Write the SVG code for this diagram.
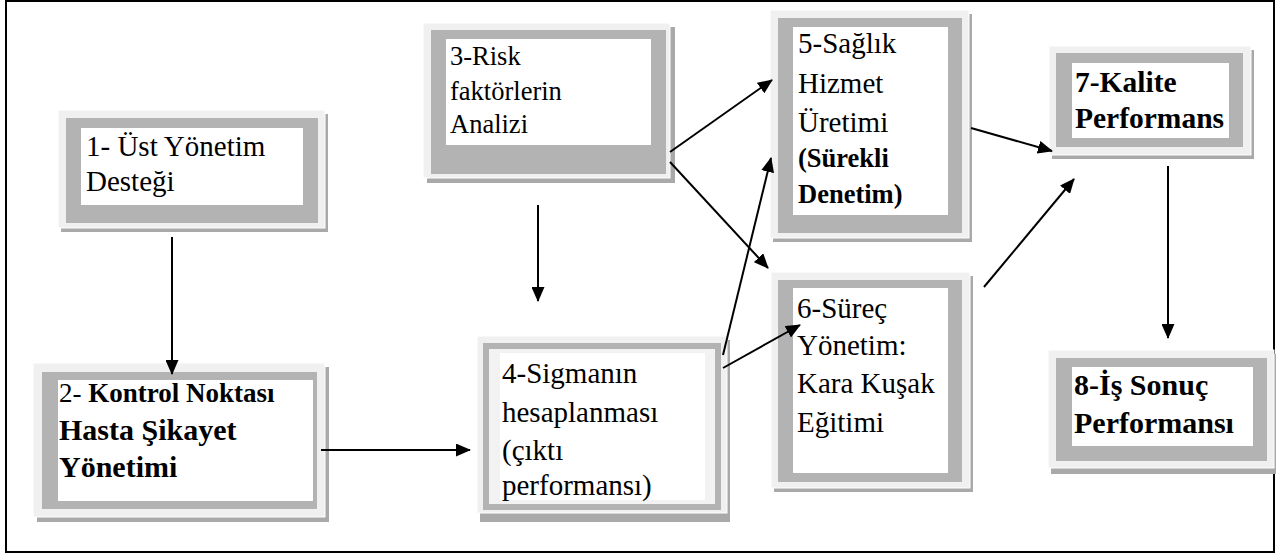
<svg xmlns="http://www.w3.org/2000/svg" width="1287" height="555" viewBox="0 0 1287 555">
  <style>
    .sh { fill: #a9a9a9; }
    .fr { fill: #f0f0f0; stroke: #ffffff; stroke-width: 1; }
    .bd { fill: #b3b3b3; }
    .in { fill: #f2f2f2; }
    .tx { fill: #ffffff; }
    text { font-family: "Liberation Serif", "Times New Roman", serif; font-size: 29px; fill: #000; }
    .b { font-weight: bold; }
    .conn line { stroke: #000; stroke-width: 2; marker-end: url(#ah); }
  </style>
  <defs>
    <marker id="ah" markerWidth="15" markerHeight="13" refX="14" refY="6.5" orient="auto" markerUnits="userSpaceOnUse">
      <path d="M0,0 L15,6.5 L0,13 Z" fill="#000"/>
    </marker>
  </defs>

  <rect width="1287" height="555" fill="#ffffff"/>
  <!-- outer frame -->
  <rect x="6" y="1" width="1268" height="551" fill="none" stroke="#000" stroke-width="2"/>

  <!-- 1: top management support -->
  <g id="node1">
    <rect class="sh" x="61" y="114" width="267" height="118"/>
    <rect class="fr" x="58" y="110" width="267" height="118"/>
    <rect class="bd" x="66" y="118" width="252" height="105"/>
    <rect class="tx" x="81" y="128" width="222" height="77"/>
    <text x="86" y="156">1- Üst Yönetim</text>
    <text x="86" y="191">Desteği</text>
  </g>

  <!-- 2: control point -->
  <g id="node2">
    <rect class="sh" x="37" y="367" width="292" height="155"/>
    <rect class="fr" x="33" y="363" width="292" height="154"/>
    <rect class="bd" x="42" y="372" width="275" height="137"/>
    <rect class="tx" x="58" y="380" width="255" height="121"/>
    <text x="59" y="402" style="font-size:27px">2- <tspan class="b">Kontrol Noktası</tspan></text>
    <text x="59" y="440" class="b" style="font-size:30px">Hasta Şikayet</text>
    <text x="59" y="477" class="b" style="font-size:30px">Yönetimi</text>
  </g>

  <!-- 3: risk factor analysis -->
  <g id="node3" style="font-size:26.5px">
    <rect class="sh" x="427" y="27" width="248" height="156"/>
    <rect class="fr" x="423" y="23" width="247" height="155"/>
    <rect class="bd" x="431" y="30" width="235" height="144"/>
    <rect class="tx" x="446" y="39" width="205" height="106"/>
    <text x="450" y="65" style="font-size:26.5px">3-Risk</text>
    <text x="450" y="100" style="font-size:26.5px">faktörlerin</text>
    <text x="450" y="133" style="font-size:26.5px">Analizi</text>
  </g>

  <!-- 4: sigma calculation -->
  <g id="node4">
    <rect class="sh" x="480" y="340" width="250" height="182"/>
    <rect class="fr" x="477" y="336" width="250" height="177"/>
    <rect class="bd" x="483" y="343" width="238" height="167"/>
    <rect class="in" x="489" y="349" width="226" height="155"/>
    <rect class="tx" x="500" y="353" width="205" height="147"/>
    <text x="502" y="383">4-Sigmanın</text>
    <text x="502" y="422">hesaplanması</text>
    <text x="502" y="460">(çıktı</text>
    <text x="502" y="495">performansı)</text>
  </g>

  <!-- 5: health service production -->
  <g id="node5">
    <rect class="sh" x="773" y="14" width="199" height="228"/>
    <rect class="fr" x="770" y="10" width="199" height="228"/>
    <rect class="bd" x="778" y="18" width="184" height="215"/>
    <rect class="tx" x="793" y="27" width="155" height="188"/>
    <text x="798" y="53">5-Sağlık</text>
    <text x="798" y="93">Hizmet</text>
    <text x="798" y="132">Üretimi</text>
    <text x="798" y="167" class="b" style="font-size:26.5px">(Sürekli</text>
    <text x="798" y="203" class="b" style="font-size:26.5px">Denetim)</text>
  </g>

  <!-- 6: process management -->
  <g id="node6">
    <rect class="sh" x="774" y="276" width="199" height="216"/>
    <rect class="fr" x="771" y="272" width="199" height="216"/>
    <rect class="bd" x="778" y="280" width="184" height="202"/>
    <rect class="tx" x="793" y="288" width="155" height="185"/>
    <text x="797" y="318">6-Süreç</text>
    <text x="797" y="355">Yönetim:</text>
    <text x="797" y="393">Kara Kuşak</text>
    <text x="797" y="432">Eğitimi</text>
  </g>

  <!-- 7: quality performance -->
  <g id="node7">
    <rect class="sh" x="1052" y="50" width="202" height="109"/>
    <rect class="fr" x="1049" y="46" width="202" height="109"/>
    <rect class="bd" x="1056" y="53" width="187" height="94"/>
    <rect class="tx" x="1072" y="63" width="157" height="75"/>
    <text x="1075" y="92" class="b" style="font-size:29.5px">7-Kalite</text>
    <text x="1075" y="128" class="b" style="font-size:29.5px">Performans</text>
  </g>

  <!-- 8: business result performance -->
  <g id="node8">
    <rect class="sh" x="1051" y="354" width="225" height="120"/>
    <rect class="fr" x="1048" y="350" width="226" height="118"/>
    <rect class="bd" x="1056" y="358" width="211" height="103"/>
    <rect class="tx" x="1072" y="367" width="181" height="79"/>
    <text x="1074" y="395" class="b" style="font-size:30px">8-İş Sonuç</text>
    <text x="1074" y="433" class="b" style="font-size:30px">Performansı</text>
  </g>

  <g id="connectors" class="conn">
    <line x1="172" y1="237" x2="172" y2="374"/>
    <line x1="321" y1="450" x2="470" y2="450"/>
    <line x1="538" y1="205" x2="538" y2="301"/>
    <line x1="670" y1="152" x2="772" y2="80"/>
    <line x1="670" y1="162" x2="768" y2="268"/>
    <line x1="723" y1="355" x2="771" y2="158"/>
    <line x1="723" y1="368" x2="800" y2="325"/>
    <line x1="971" y1="128" x2="1052" y2="151"/>
    <line x1="984" y1="287" x2="1074" y2="179"/>
    <line x1="1168" y1="166" x2="1168" y2="338"/>
  </g>
</svg>
